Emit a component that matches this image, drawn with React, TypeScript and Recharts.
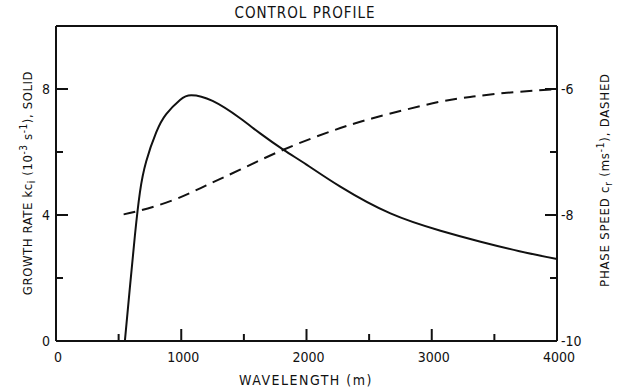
import { LineChart, Line, XAxis, YAxis, Label } from 'recharts';

// wavelength (m) vs growth rate kc_i (10^-3 s^-1), solid curve
const stableWavelength = [0, 550];
const stableRate = [0, 0];
const growthWavelength = [550, 590, 630, 670, 720, 800, 880, 990, 1080, 1250, 1470, 1630, 1820, 2000, 2270, 2670, 3070, 3390, 3700, 4000];
const growthRate = [0, 1.7, 3.35, 4.72, 5.7, 6.62, 7.2, 7.65, 7.8, 7.62, 7.07, 6.59, 6.06, 5.6, 4.9, 4.05, 3.5, 3.15, 2.85, 2.6];

// wavelength (m) vs phase speed c_r (m s^-1), dashed curve
const phaseWavelength = [540, 670, 940, 1200, 1470, 1820, 2270, 2670, 3070, 3330, 3600, 4000];
const phaseSpeed = [-7.99, -7.93, -7.76, -7.53, -7.28, -6.96, -6.62, -6.39, -6.2, -6.12, -6.06, -6.0];

const xTicks = [0, 500, 1000, 1500, 2000, 2500, 3000, 3500, 4000];
const xLabelled = [0, 1000, 2000, 3000, 4000];
const leftTicks = [0, 2, 4, 6, 8];
const leftLabelled = [0, 4, 8];
const rightTicks = [-10, -9, -8, -7, -6];
const rightLabelled = [-10, -8, -6];

const stableData = stableWavelength.map((w, i) => ({ w, v: stableRate[i] }));
const growthData = growthWavelength.map((w, i) => ({ w, v: growthRate[i] }));
const phaseData = phaseWavelength.map((w, i) => ({ w, v: phaseSpeed[i] }));

const FONT = '"DejaVu Sans Condensed", "Liberation Sans Narrow", sans-serif';
const INK = '#111';
const MAJOR = 12;
const MINOR = 7;

// eslint-disable-next-line @typescript-eslint/no-explicit-any
const BottomTick = (props: any) => {
  const { x, y, payload } = props;
  const v = payload.value;
  const major = v % 1000 === 0;
  const len = v === 0 || v === 4000 ? 0 : major ? MAJOR : MINOR;
  return (
    <g>
      {len > 0 && <line x1={x} x2={x} y1={y} y2={y - len} stroke={INK} strokeWidth={2} />}
      {xLabelled.includes(v) && (
        <text x={x + 2} y={y + 21} textAnchor="middle" fontFamily={FONT} fontSize={14} fill={INK}>
          {v}
        </text>
      )}
    </g>
  );
};

// eslint-disable-next-line @typescript-eslint/no-explicit-any
const TopTick = (props: any) => {
  const { x, y, payload } = props;
  const v = payload.value;
  const major = v % 1000 === 0;
  const len = v === 0 || v === 4000 ? 0 : major ? MAJOR + 1 : MINOR + 2;
  if (!len) return <g />;
  return <line x1={x} x2={x} y1={y} y2={y + len} stroke={INK} strokeWidth={2} />;
};

// eslint-disable-next-line @typescript-eslint/no-explicit-any
const LeftTick = (props: any) => {
  const { x, y, payload } = props;
  const v = payload.value;
  const len = v === 0 ? 0 : leftLabelled.includes(v) ? MAJOR : MINOR;
  return (
    <g>
      {len > 0 && <line x1={x} x2={x + len} y1={y} y2={y} stroke={INK} strokeWidth={2} />}
      {leftLabelled.includes(v) && (
        <text x={x - 6} y={y + 5} textAnchor="end" fontFamily={FONT} fontSize={14} fill={INK}>
          {v}
        </text>
      )}
    </g>
  );
};

// eslint-disable-next-line @typescript-eslint/no-explicit-any
const RightTick = (props: any) => {
  const { x, y, payload } = props;
  const v = payload.value;
  const len = v === -10 ? 0 : rightLabelled.includes(v) ? MAJOR : MINOR;
  return (
    <g>
      {len > 0 && <line x1={x} x2={x - len} y1={y} y2={y} stroke={INK} strokeWidth={2} />}
      {rightLabelled.includes(v) && (
        <text x={x + 4} y={y + 5} textAnchor="start" fontFamily={FONT} fontSize={14} fill={INK}>
          {v}
        </text>
      )}
    </g>
  );
};

export default function App() {
  return (
    <div style={{ position: 'absolute', left: 0, top: 0, width: 617, height: 390, background: '#fff' }}>
      <LineChart width={617} height={390} margin={{ top: 0, right: 0, bottom: 0, left: 0 }}>
        <XAxis
          xAxisId="bottom"
          dataKey="w"
          type="number"
          domain={[0, 4000]}
          ticks={xTicks}
          interval={0}
          height={49}
          tickSize={0}
          tickMargin={0}
          tickLine={false}
          axisLine={{ stroke: INK, strokeWidth: 2 }}
          tick={<BottomTick />}
        >
          <Label
            content={() => (
              <text x={306} y={385} textAnchor="middle" fontFamily={FONT} fontSize={14} letterSpacing={1.5} fill={INK}>
                WAVELENGTH (m)
              </text>
            )}
          />
        </XAxis>
        <XAxis
          xAxisId="top"
          orientation="top"
          dataKey="w"
          type="number"
          domain={[0, 4000]}
          ticks={xTicks}
          interval={0}
          height={26}
          tickSize={0}
          tickMargin={0}
          tickLine={false}
          axisLine={{ stroke: INK, strokeWidth: 2 }}
          tick={<TopTick />}
        >
          <Label
            content={() => (
              <text x={305} y={18} textAnchor="middle" fontFamily={FONT} fontSize={15} letterSpacing={1} fill={INK}>
                CONTROL PROFILE
              </text>
            )}
          />
        </XAxis>
        <YAxis
          yAxisId="left"
          type="number"
          domain={[0, 10]}
          ticks={leftTicks}
          interval={0}
          width={56}
          tickSize={0}
          tickMargin={0}
          tickLine={false}
          axisLine={{ stroke: INK, strokeWidth: 2 }}
          tick={<LeftTick />}
        >
          <Label
            content={() => (
              <text
                x={32}
                y={183}
                transform="rotate(-90 32 183)"
                textAnchor="middle"
                fontFamily={FONT}
                fontSize={13}
                letterSpacing={0.6}
                fill={INK}
              >
                GROWTH RATE kc
                <tspan dy={3} fontSize={10}>i</tspan>
                <tspan dy={-3}> (10</tspan>
                <tspan dy={-5} fontSize={10}>-3</tspan>
                <tspan dy={5}> s</tspan>
                <tspan dy={-5} fontSize={10}>-1</tspan>
                <tspan dy={5}>), SOLID</tspan>
              </text>
            )}
          />
        </YAxis>
        <YAxis
          yAxisId="right"
          orientation="right"
          type="number"
          domain={[-10, -5]}
          ticks={rightTicks}
          interval={0}
          width={60}
          tickSize={0}
          tickMargin={0}
          tickLine={false}
          axisLine={{ stroke: INK, strokeWidth: 2 }}
          tick={<RightTick />}
        >
          <Label
            content={() => (
              <text
                x={609}
                y={180}
                transform="rotate(-90 609 180)"
                textAnchor="middle"
                fontFamily={FONT}
                fontSize={13}
                letterSpacing={0.8}
                fill={INK}
              >
                PHASE SPEED c
                <tspan dy={3} fontSize={10}>r</tspan>
                <tspan dy={-3}> (ms</tspan>
                <tspan dy={-5} fontSize={10}>-1</tspan>
                <tspan dy={5}>), DASHED</tspan>
              </text>
            )}
          />
        </YAxis>
        <Line
          data={stableData}
          xAxisId="bottom"
          yAxisId="left"
          dataKey="v"
          type="linear"
          stroke={INK}
          strokeWidth={2}
          dot={false}
          activeDot={false}
          isAnimationActive={false}
        />
        <Line
          data={growthData}
          xAxisId="bottom"
          yAxisId="left"
          dataKey="v"
          type="natural"
          stroke={INK}
          strokeWidth={2}
          dot={false}
          activeDot={false}
          isAnimationActive={false}
        />
        <Line
          data={phaseData}
          xAxisId="bottom"
          yAxisId="right"
          dataKey="v"
          type="natural"
          stroke={INK}
          strokeWidth={2}
          strokeDasharray="12 7"
          dot={false}
          activeDot={false}
          isAnimationActive={false}
        />
      </LineChart>
    </div>
  );
}
